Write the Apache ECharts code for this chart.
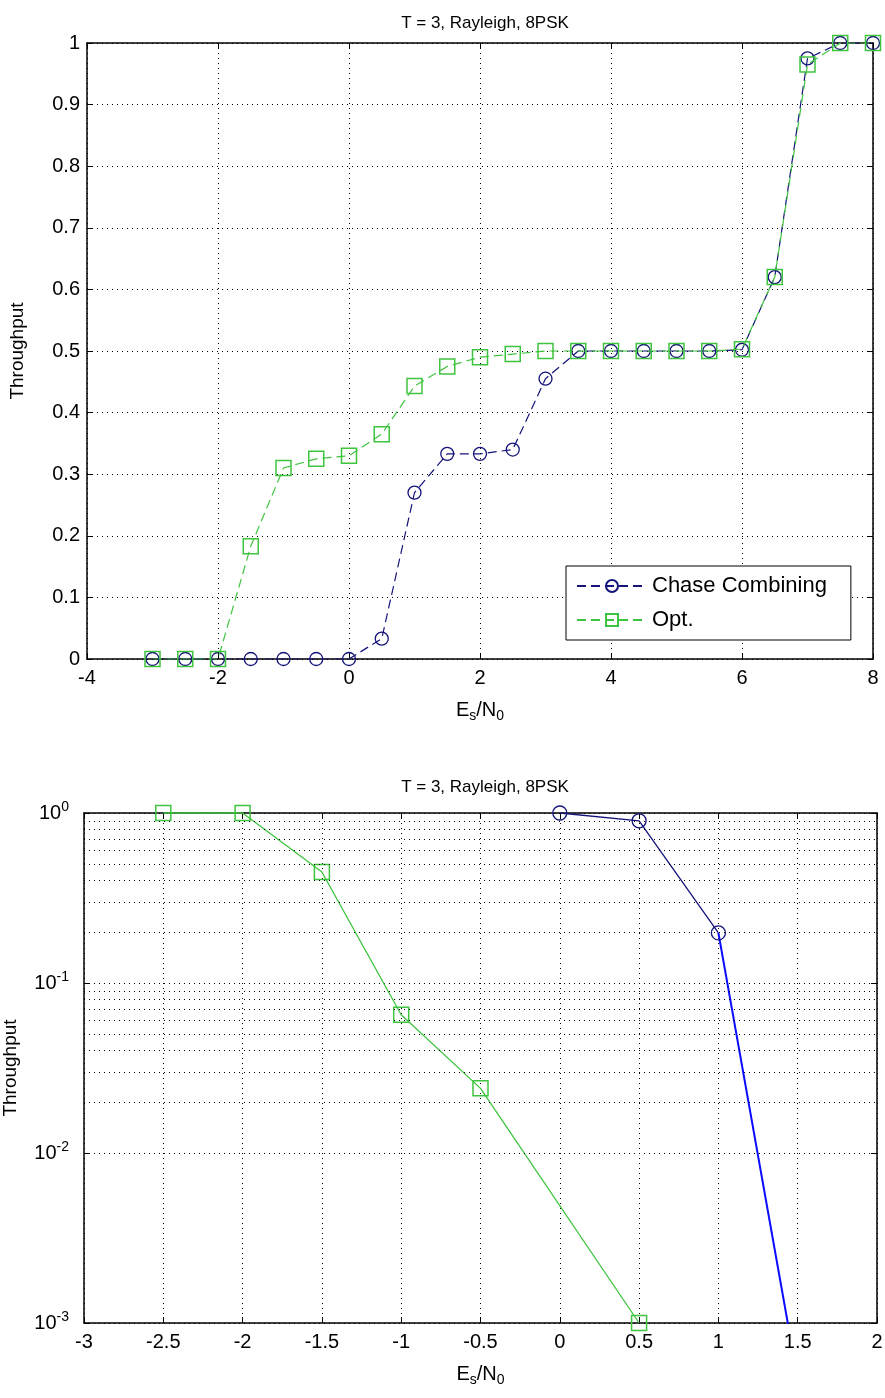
<!DOCTYPE html>
<html>
<head>
<meta charset="utf-8">
<script src="https://cdn.jsdelivr.net/npm/echarts@6/dist/echarts.min.js"></script>
<style>
html,body{margin:0;padding:0;background:#fff;}
#c{width:885px;height:1398px;}
</style>
</head>
<body>
<div id="c"></div>
<script>
// ---- Top chart (linear) ----
const snrTop = [-3,-2.5,-2,-1.5,-1,-0.5,0,0.5,1,1.5,2,2.5,3,3.5,4,4.5,5,5.5,6,6.5,7,7.5,8];
const chaseTop = [0,0,0,0,0,0,0,0.033,0.27,0.333,0.333,0.34,0.455,0.5,0.5,0.5,0.5,0.5,0.502,0.62,0.975,1,1];
const optTop = [0,0,0,0.183,0.31,0.325,0.33,0.365,0.443,0.475,0.49,0.495,0.5,0.5,0.5,0.5,0.5,0.5,0.503,0.62,0.965,1,1];
const topXTicks = [-4,-2,0,2,4,6,8];
const topYTicks = [0,0.1,0.2,0.3,0.4,0.5,0.6,0.7,0.8,0.9,1];

// ---- Bottom chart (log) ----
const snrOptLog = [-2.5,-2,-1.5,-1,-0.5,0.5];
const optLog = [1,1,0.45,0.065,0.024,0.001];
const snrChaseLog = [0,0.5,1];
const chaseLog = [1,0.9,0.197];
const snrChaseTail = [1,1.5];
const chaseTail = [0.197,0.00047];
const logMinorGrid = [0.002,0.003,0.004,0.005,0.006,0.007,0.008,0.009,
                      0.02,0.03,0.04,0.05,0.06,0.07,0.08,0.09,
                      0.2,0.3,0.4,0.5,0.6,0.7,0.8,0.9];

const titleText = 'T = 3, Rayleigh, 8PSK';
const FONT = 'Liberation Sans';
const NAVY = '#14147a';
const GREEN = '#3fc43f';
const BLUE = '#0a0aff';

const pair = (xs, ys) => xs.map((x, i) => [x, ys[i]]);

const dotted = {type: [1, 4], color: '#000', width: 1};
const axisLabel = {color: '#000', fontFamily: FONT, fontSize: 20};
const subRich = {
  sub: {fontSize: 14, fontFamily: FONT, color: '#000', verticalAlign: 'bottom', padding: [12, 0, 0, 0]},
  n: {fontSize: 20, fontFamily: FONT, color: '#000'}
};
const xName = '{n|E}{sub|s}{n|/N}{sub|0}';
const tick = {show: true, inside: true, length: 6, lineStyle: {color: '#000'}};
const frameLine = {show: true, onZero: false, lineStyle: {color: '#000', width: 1.5}};

const chart = echarts.init(document.getElementById('c'), null, {renderer: 'canvas'});

const option = {
  animation: false,
  backgroundColor: '#fff',
  title: [
    {text: titleText, left: 480, top: 10, textAlign: 'center',
     textStyle: {fontFamily: FONT, fontSize: 17, fontWeight: 'normal', color: '#000'}},
    {text: titleText, left: 480, top: 774, textAlign: 'center',
     textStyle: {fontFamily: FONT, fontSize: 17, fontWeight: 'normal', color: '#000'}}
  ],
  grid: [
    {left: 87, top: 43, width: 786, height: 616, show: false, containLabel: false, outerBoundsMode: 'none'},
    {left: 84, top: 813, width: 793, height: 510, show: false, containLabel: false, outerBoundsMode: 'none'}
  ],
  legend: {
    data: ['Chase Combining', 'Opt.'],
    left: 566, top: 566,
    orient: 'vertical',
    backgroundColor: '#fff',
    borderColor: '#000', borderWidth: 1,
    padding: [9, 24, 9, 10],
    itemGap: 12,
    itemWidth: 70, itemHeight: 15,
    textStyle: {fontFamily: FONT, fontSize: 22, color: '#000'}
  },
  xAxis: [
    {gridIndex: 0, type: 'value', min: -4, max: 8, interval: 2,
     axisLine: frameLine, axisTick: tick,
     axisLabel: Object.assign({}, axisLabel, {margin: 9}),
     splitLine: {show: true, lineStyle: dotted},
     name: xName, nameLocation: 'middle', nameGap: 38,
     nameTextStyle: {rich: subRich}},
    {gridIndex: 0, type: 'value', min: -4, max: 8, interval: 2, position: 'top',
     axisLine: frameLine, axisTick: tick,
     axisLabel: {show: false}, splitLine: {show: false}},
    {gridIndex: 1, type: 'value', min: -3, max: 2, interval: 0.5,
     axisLine: frameLine, axisTick: tick,
     axisLabel: Object.assign({}, axisLabel, {margin: 9}),
     splitLine: {show: true, lineStyle: dotted},
     name: xName, nameLocation: 'middle', nameGap: 38,
     nameTextStyle: {rich: subRich}},
    {gridIndex: 1, type: 'value', min: -3, max: 2, interval: 0.5, position: 'top',
     axisLine: frameLine, axisTick: tick,
     axisLabel: {show: false}, splitLine: {show: false}}
  ],
  yAxis: [
    {gridIndex: 0, type: 'value', min: 0, max: 1, interval: 0.1,
     axisLine: frameLine, axisTick: tick,
     axisLabel: Object.assign({}, axisLabel, {margin: 7, formatter: v => String(+v.toFixed(1))}),
     splitLine: {show: true, lineStyle: dotted},
     name: 'Throughput', nameLocation: 'middle', nameGap: 60,
     nameTextStyle: {fontFamily: FONT, fontSize: 19, color: '#000'}},
    {gridIndex: 0, type: 'value', min: 0, max: 1, interval: 0.1, position: 'right',
     axisLine: frameLine, axisTick: tick,
     axisLabel: {show: false}, splitLine: {show: false}},
    {gridIndex: 1, type: 'log', logBase: 10, min: 0.001, max: 1,
     axisLine: frameLine, axisTick: tick,
     axisLabel: {margin: 15, formatter: v => '{b|10}{s|' + Math.round(Math.log10(v)) + '}',
       rich: {b: {fontFamily: FONT, fontSize: 20, color: '#000'},
              s: {fontFamily: FONT, fontSize: 14, color: '#000', verticalAlign: 'top', padding: [0, 0, 12, 0]}}},
     splitLine: {show: true, lineStyle: dotted},
     name: 'Throughput', nameLocation: 'middle', nameGap: 64,
     nameTextStyle: {fontFamily: FONT, fontSize: 19, color: '#000'}},
    {gridIndex: 1, type: 'log', logBase: 10, min: 0.001, max: 1, position: 'right',
     axisLine: frameLine, axisTick: tick,
     axisLabel: {show: false}, splitLine: {show: false}}
  ],
  series: [
    {name: 'Chase Combining', type: 'line', xAxisIndex: 0, yAxisIndex: 0,
     data: pair(snrTop, chaseTop), symbol: 'circle', symbolSize: 13,
     lineStyle: {color: NAVY, width: 1.2, type: [9, 5]},
     itemStyle: {color: 'rgba(255,255,255,0)', borderColor: NAVY, borderWidth: 1.3},
     z: 3},
    {name: 'Opt.', type: 'line', xAxisIndex: 0, yAxisIndex: 0,
     data: pair(snrTop, optTop), symbol: 'rect', symbolSize: 15,
     lineStyle: {color: GREEN, width: 1.2, type: [9, 5]},
     itemStyle: {color: 'rgba(255,255,255,0)', borderColor: GREEN, borderWidth: 1.5},
     z: 4},
    {name: 'Opt. (log)', type: 'line', xAxisIndex: 2, yAxisIndex: 2,
     data: pair(snrOptLog, optLog), symbol: 'rect', symbolSize: 15,
     lineStyle: {color: GREEN, width: 1.3},
     itemStyle: {color: 'rgba(255,255,255,0)', borderColor: GREEN, borderWidth: 1.5},
     clip: false,
     markLine: {silent: true, symbol: 'none', label: {show: false},
       lineStyle: dotted, data: logMinorGrid.map(v => ({yAxis: v}))}},
    {name: 'Chase Combining (log)', type: 'line', xAxisIndex: 2, yAxisIndex: 2,
     data: pair(snrChaseLog, chaseLog), symbol: 'circle', symbolSize: 14,
     lineStyle: {color: NAVY, width: 1.3},
     itemStyle: {color: 'rgba(255,255,255,0)', borderColor: NAVY, borderWidth: 1.3},
     clip: false, z: 3},
    {name: 'Chase tail', type: 'line', xAxisIndex: 2, yAxisIndex: 2,
     data: pair(snrChaseTail, chaseTail), symbol: 'none',
     lineStyle: {color: BLUE, width: 2}, clip: true, z: 2}
  ]
};
chart.setOption(option);
</script>
</body>
</html>
